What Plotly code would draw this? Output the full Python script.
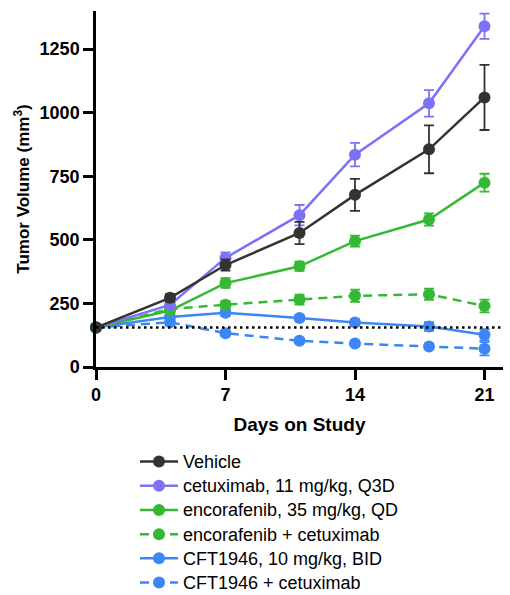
import plotly.graph_objects as go

days = [0, 4, 7, 11, 14, 18, 21]

series_names = [
    "Vehicle",
    "cetuximab, 11 mg/kg, Q3D",
    "encorafenib, 35 mg/kg, QD",
    "encorafenib + cetuximab",
    "CFT1946, 10 mg/kg, BID",
    "CFT1946 + cetuximab",
]
vehicle = [155, 272, 401, 527, 677, 856, 1060]
vehicle_err = [6, 15, 22, 44, 63, 94, 128]
cetuximab = [155, 244, 429, 597, 835, 1037, 1340]
cetuximab_err = [6, 14, 22, 40, 46, 52, 50]
encorafenib = [155, 222, 330, 396, 495, 580, 725]
encorafenib_err = [6, 12, 19, 18, 22, 24, 35]
enco_cetux = [155, 228, 245, 265, 280, 286, 240]
enco_cetux_err = [6, 12, 14, 20, 24, 22, 25]
cft1946 = [155, 197, 213, 193, 175, 159, 127]
cft1946_err = [6, 10, 12, 12, 12, 17, 22]
cft_cetux = [155, 176, 133, 103, 92, 81, 72]
cft_cetux_err = [6, 10, 10, 8, 8, 8, 26]

baseline = 155
y_ticks = [0, 250, 500, 750, 1000, 1250]
x_ticks = [0, 7, 14, 21]

colors = ["#333333", "#7b72f5", "#35b935", "#35b935", "#3c87f5", "#3c87f5"]
dashes = ["solid", "solid", "solid", "9px,6px", "solid", "9px,6px"]
values = [vehicle, cetuximab, encorafenib, enco_cetux, cft1946, cft_cetux]
errors = [vehicle_err, cetuximab_err, encorafenib_err, enco_cetux_err, cft1946_err, cft_cetux_err]

FONT = "Arial, 'Liberation Sans', sans-serif"

# layout geometry (pixels)
W, H = 510, 595
M_L, M_R, M_T, M_B = 96, 7, 11, 228
plot_h = H - M_T - M_B
plot_w = W - M_L - M_R
LEG_TOP = 444.5
LEG_LEFT = 135

fig = go.Figure()
for i in reversed(range(len(series_names))):
    fig.add_trace(go.Scatter(
        x=days, y=values[i],
        name='<span style="font-size:18px">' + series_names[i] + '</span>',
        mode="lines+markers",
        line=dict(color=colors[i], width=2.5, dash=dashes[i]),
        marker=dict(color=colors[i], size=12, symbol="circle"),
        error_y=dict(type="data", array=errors[i], visible=True,
                     color=colors[i], thickness=1.8, width=5),
        cliponaxis=False,
    ))

fig.add_shape(type="line", xref="paper", yref="y", x0=0, x1=1,
              y0=baseline, y1=baseline,
              line=dict(color="black", width=2.5, dash="2.5px,3.5px"))

fig.update_layout(
    width=W, height=H,
    margin=dict(l=M_L, r=M_R, t=M_T, b=M_B, autoexpand=False),
    paper_bgcolor="white", plot_bgcolor="white",
    font=dict(family=FONT, color="black"),
    showlegend=True,
    legend=dict(
        traceorder="reversed",
        x=(LEG_LEFT - M_L) / plot_w, xanchor="left",
        y=-(LEG_TOP - (H - M_B)) / plot_h, yanchor="top",
        font=dict(size=16.3, family=FONT, color="black"),
        bgcolor="rgba(0,0,0,0)",
        itemwidth=38,
    ),
    xaxis=dict(
        range=[0, 22], tickvals=x_ticks, ticktext=[str(t) for t in x_ticks],
        showline=True, linecolor="black", linewidth=2.5,
        ticks="outside", ticklen=10, tickwidth=2.5, tickcolor="black",
        showgrid=False, zeroline=False, automargin=False,
        tickfont=dict(size=18, family=FONT, weight="bold"),
        title=dict(text="<b>Days on Study</b>", font=dict(size=19, family=FONT), standoff=14),
    ),
    yaxis=dict(
        range=[0, 1400], tickvals=y_ticks,
        showline=True, linecolor="black", linewidth=2.5,
        ticks="outside", ticklen=10, tickwidth=2.5, tickcolor="black",
        showgrid=False, zeroline=False, automargin=False,
        tickfont=dict(size=18, family=FONT, weight="bold"),
        title=dict(text="<b>Tumor Volume (mm<sup>3</sup>)</b>", font=dict(size=17, family=FONT), standoff=6),
    ),
)

fig.write_html("out.html")
